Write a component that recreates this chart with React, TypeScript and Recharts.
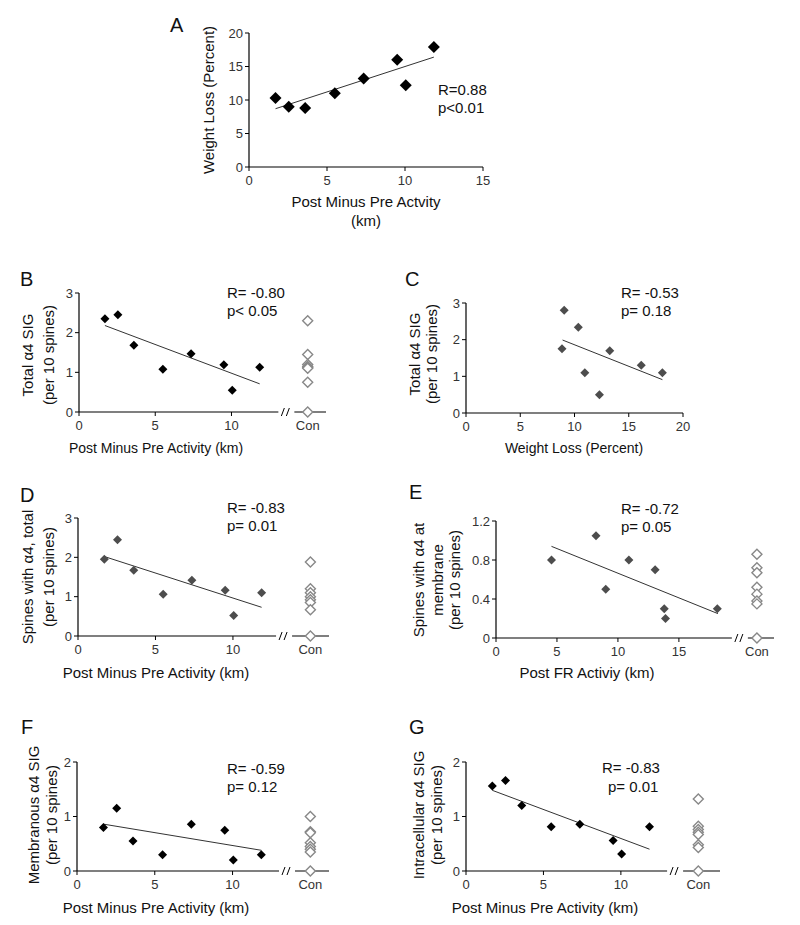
import React from "react";
import {
  ScatterChart,
  Scatter,
  XAxis,
  YAxis,
  ReferenceLine,
  ReferenceDot,
} from "recharts";

const FONT = '"Liberation Sans", Arial, sans-serif';

// x values shared by B, D, F, G (post minus pre activity, km)
const activityKm = [1.7, 2.55, 3.6, 5.5, 7.35, 9.5, 10.05, 11.85];

// A: weight loss vs activity
const weightLoss = [10.3, 9.0, 8.8, 11.0, 13.2, 16.0, 12.2, 17.9];
const trendA = [8.7, 16.4];

// B: total a4 SIG
const totalSig = [2.35, 2.45, 1.68, 1.08, 1.47, 1.19, 0.55, 1.13];
const trendB = [2.18, 0.71];
const conB = [2.3, 1.45, 1.2, 1.15, 1.12, 1.1, 0.75, 0];

// C: total a4 SIG vs weight loss
const weightX = [8.85, 9.05, 10.35, 10.95, 12.3, 13.25, 16.15, 18.1];
const totalSigC = [1.75, 2.8, 2.34, 1.1, 0.5, 1.7, 1.3, 1.1];
const trendCx = [8.9, 18.1];
const trendC = [1.99, 0.91];

// D: spines with a4, total
const spinesTotal = [1.95, 2.45, 1.67, 1.06, 1.42, 1.16, 0.52, 1.1];
const trendD = [2.02, 0.73];
const conD = [1.88, 1.2, 1.1, 1.0, 0.92, 0.85, 0.67, 0];

// E: spines with a4 at membrane vs post FR activity
const postFR = [4.55, 8.2, 9.0, 10.9, 13.05, 13.8, 13.9, 18.15];
const spinesMembrane = [0.8, 1.05, 0.5, 0.8, 0.7, 0.3, 0.2, 0.3];
const trendEx = [4.55, 18.2];
const trendE = [0.94, 0.25];
const conE = [0.86, 0.72, 0.67, 0.52, 0.45, 0.38, 0.35, 0];

// F: membranous a4 SIG
const membranousSig = [0.8, 1.15, 0.55, 0.3, 0.86, 0.75, 0.2, 0.3];
const trendF = [0.86, 0.38];
const conF = [1.0, 0.72, 0.7, 0.52, 0.45, 0.4, 0.35, 0];

// G: intracellular a4 SIG
const intraSig = [1.56, 1.66, 1.2, 0.81, 0.86, 0.56, 0.31, 0.81];
const trendG = [1.48, 0.4];
const conG = [1.32, 0.82, 0.76, 0.71, 0.67, 0.48, 0.43, 0];

const CON_X = 15;
const CON_X_E = 21.4;

const pts = (xs: number[], ys: number[]) =>
  xs.map((x, i) => ({ x, y: ys[i] }));
const conPts = (x: number, ys: number[]) => ys.map((y) => ({ x, y }));

const Diamond = (props: any) => {
  const { cx, cy, r, fill, stroke } = props;
  if (cx == null || cy == null) return <g />;
  return (
    <polygon
      points={`${cx},${cy - r} ${cx + r},${cy} ${cx},${cy + r} ${cx - r},${cy}`}
      fill={fill}
      stroke={stroke || "none"}
      strokeWidth={1.4}
    />
  );
};

const BreakMark = (props: any) => {
  const { cx, cy } = props;
  return (
    <g>
      <rect x={cx - 8} y={cy - 3} width={16} height={6} fill="#fff" />
      <line x1={cx - 5} y1={cy + 4} x2={cx - 2} y2={cy - 4} stroke="#000" />
      <line x1={cx} y1={cy + 4} x2={cx + 3} y2={cy - 4} stroke="#000" />
    </g>
  );
};

interface PanelCfg {
  box: { left: number; top: number; right: number; bottom: number };
  xDomain: [number, number];
  xTicks: number[];
  yDomain: [number, number];
  yTicks: number[];
  data: { x: number; y: number }[];
  fill: string;
  size: number;
  trend: { x: number; y: number }[];
  con?: { x: number; y: number }[];
  conX?: number;
  breakX?: number;
}

function Panel({ cfg }: { cfg: PanelCfg }) {
  const yW = 40;
  const xH = 30;
  const mt = 10;
  const mr = 12;
  const chartLeft = cfg.box.left - yW;
  const chartTop = cfg.box.top - mt;
  const width = cfg.box.right - chartLeft + mr;
  const height = cfg.box.bottom - chartTop + xH;
  const tickStyle = { fill: "#333", fontSize: 13, fontFamily: FONT };

  return (
    <div style={{ position: "absolute", left: chartLeft, top: chartTop }}>
      <ScatterChart
        width={width}
        height={height}
        margin={{ top: mt, right: mr, bottom: 0, left: 0 }}
      >
        <XAxis
          type="number"
          dataKey="x"
          domain={cfg.xDomain}
          ticks={cfg.xTicks}
          height={xH}
          tick={tickStyle}
          tickSize={4}
          tickMargin={5}
          tickLine={{ stroke: "#000" }}
          axisLine={{ stroke: "#000", strokeWidth: 1.2 }}
          tickFormatter={(v: number) =>
            cfg.conX != null && v === cfg.conX ? "Con" : String(v)
          }
        />
        <YAxis
          type="number"
          dataKey="y"
          domain={cfg.yDomain}
          ticks={cfg.yTicks}
          width={yW}
          tick={tickStyle}
          tickSize={4}
          tickMargin={2}
          tickLine={{ stroke: "#000" }}
          axisLine={{ stroke: "#000", strokeWidth: 1.2 }}
        />
        <ReferenceLine
          segment={cfg.trend}
          stroke="#333"
          strokeWidth={1}
          ifOverflow="visible"
        />
        {cfg.breakX != null && (
          <ReferenceDot
            x={cfg.breakX}
            y={0}
            r={1}
            ifOverflow="visible"
            shape={(p: any) => <BreakMark {...p} />}
          />
        )}
        <Scatter
          data={cfg.data}
          isAnimationActive={false}
          shape={(p: any) => <Diamond {...p} r={cfg.size} fill={cfg.fill} />}
        />
        {cfg.con && (
          <Scatter
            data={cfg.con}
            isAnimationActive={false}
            shape={(p: any) => (
              <Diamond {...p} r={5} fill="#fff" stroke="#888" />
            )}
          />
        )}
      </ScatterChart>
    </div>
  );
}

const panels: PanelCfg[] = [
  {
    box: { left: 249, top: 33, right: 483, bottom: 167 },
    xDomain: [0, 15],
    xTicks: [0, 5, 10, 15],
    yDomain: [0, 20],
    yTicks: [0, 5, 10, 15, 20],
    data: pts(activityKm, weightLoss),
    fill: "#000",
    size: 6,
    trend: pts([activityKm[0], activityKm[7]], trendA),
  },
  {
    box: { left: 79, top: 293, right: 326, bottom: 412 },
    xDomain: [0, 16.2],
    xTicks: [0, 5, 10, CON_X],
    yDomain: [0, 3],
    yTicks: [0, 1, 2, 3],
    data: pts(activityKm, totalSig),
    fill: "#000",
    size: 4.5,
    trend: pts([activityKm[0], activityKm[7]], trendB),
    con: conPts(CON_X, conB),
    conX: CON_X,
    breakX: 13.6,
  },
  {
    box: { left: 466, top: 303, right: 683, bottom: 413 },
    xDomain: [0, 20],
    xTicks: [0, 5, 10, 15, 20],
    yDomain: [0, 3],
    yTicks: [0, 1, 2, 3],
    data: pts(weightX, totalSigC),
    fill: "#4d4d4d",
    size: 4.5,
    trend: pts(trendCx, trendC),
  },
  {
    box: { left: 78, top: 518, right: 329, bottom: 636 },
    xDomain: [0, 16.2],
    xTicks: [0, 5, 10, CON_X],
    yDomain: [0, 3],
    yTicks: [0, 1, 2, 3],
    data: pts(activityKm, spinesTotal),
    fill: "#4d4d4d",
    size: 4.5,
    trend: pts([activityKm[0], activityKm[7]], trendD),
    con: conPts(CON_X, conD),
    conX: CON_X,
    breakX: 13.3,
  },
  {
    box: { left: 496, top: 521, right: 774, bottom: 638 },
    xDomain: [0, 22.8],
    xTicks: [0, 5, 10, 15, CON_X_E],
    yDomain: [0, 1.2],
    yTicks: [0, 0.4, 0.8, 1.2],
    data: pts(postFR, spinesMembrane),
    fill: "#4d4d4d",
    size: 4.5,
    trend: pts(trendEx, trendE),
    con: conPts(CON_X_E, conE),
    conX: CON_X_E,
    breakX: 20,
  },
  {
    box: { left: 77, top: 762, right: 329, bottom: 871 },
    xDomain: [0, 16.2],
    xTicks: [0, 5, 10, CON_X],
    yDomain: [0, 2],
    yTicks: [0, 1, 2],
    data: pts(activityKm, membranousSig),
    fill: "#000",
    size: 4.5,
    trend: pts([activityKm[0], activityKm[7]], trendF),
    con: conPts(CON_X, conF),
    conX: CON_X,
    breakX: 13.5,
  },
  {
    box: { left: 466, top: 762, right: 720, bottom: 871 },
    xDomain: [0, 16.4],
    xTicks: [0, 5, 10, CON_X],
    yDomain: [0, 2],
    yTicks: [0, 1, 2],
    data: pts(activityKm, intraSig),
    fill: "#000",
    size: 4.5,
    trend: pts([activityKm[0], activityKm[7]], trendG),
    con: conPts(CON_X, conG),
    conX: CON_X,
    breakX: 13.5,
  },
];

const T = (p: {
  x: number;
  y: number;
  size?: number;
  anchor?: "start" | "middle" | "end";
  rot?: boolean;
  children: React.ReactNode;
}) => (
  <text
    transform={`translate(${p.x},${p.y})${p.rot ? " rotate(-90)" : ""}`}
    textAnchor={p.anchor || "start"}
    dominantBaseline="central"
    fontSize={p.size || 15}
    fontFamily={FONT}
    fill="#111"
  >
    {p.children}
  </text>
);

function Labels() {
  return (
    <svg
      width={800}
      height={925}
      style={{ position: "absolute", left: 0, top: 0, pointerEvents: "none" }}
    >
      {/* A */}
      <T x={170} y={25} size={20}>A</T>
      <T x={208} y={100} anchor="middle" rot>Weight Loss (Percent)</T>
      <T x={366} y={201} anchor="middle">Post Minus Pre Actvity</T>
      <T x={366} y={220} anchor="middle">(km)</T>
      <T x={438} y={89}>R=0.88</T>
      <T x={438} y={107}>p&lt;0.01</T>

      {/* B */}
      <T x={20} y={279} size={20}>B</T>
      <T x={27} y={355} anchor="middle" rot>Total α4 SIG</T>
      <T x={48} y={355} anchor="middle" rot>(per 10 spines)</T>
      <T x={156} y={448} size={14} anchor="middle">Post Minus Pre Activity (km)</T>
      <T x={227} y={292}>R= -0.80</T>
      <T x={227} y={310}>p&lt; 0.05</T>

      {/* C */}
      <T x={405} y={279} size={20}>C</T>
      <T x={414} y={354} anchor="middle" rot>Total α4 SIG</T>
      <T x={431} y={354} anchor="middle" rot>(per 10 spines)</T>
      <T x={574} y={448} size={14} anchor="middle">Weight Loss (Percent)</T>
      <T x={621} y={292}>R= -0.53</T>
      <T x={621} y={310}>p= 0.18</T>

      {/* D */}
      <T x={20} y={495} size={20}>D</T>
      <T x={27} y={577} anchor="middle" rot>Spines with α4, total</T>
      <T x={48} y={577} anchor="middle" rot>(per 10 spines)</T>
      <T x={156} y={672} anchor="middle">Post Minus Pre Activity (km)</T>
      <T x={227} y={507}>R= -0.83</T>
      <T x={227} y={525}>p= 0.01</T>

      {/* E */}
      <T x={409} y={492} size={20}>E</T>
      <T x={418} y={580} anchor="middle" rot>Spines with α4 at</T>
      <T x={437} y={580} anchor="middle" rot>membrane</T>
      <T x={454} y={580} anchor="middle" rot>(per 10 spines)</T>
      <T x={587} y={672} anchor="middle">Post FR Activiy (km)</T>
      <T x={621} y={508}>R= -0.72</T>
      <T x={621} y={526}>p= 0.05</T>

      {/* F */}
      <T x={21} y={727} size={20}>F</T>
      <T x={33} y={815} anchor="middle" rot>Membranous α4 SIG</T>
      <T x={51} y={815} anchor="middle" rot>(per 10 spines)</T>
      <T x={156} y={907} anchor="middle">Post Minus Pre Activity (km)</T>
      <T x={227} y={768}>R= -0.59</T>
      <T x={227} y={786}>p= 0.12</T>

      {/* G */}
      <T x={409} y={727} size={20}>G</T>
      <T x={418} y={815} anchor="middle" rot>Intracellular α4 SIG</T>
      <T x={436} y={815} anchor="middle" rot>(per 10 spines)</T>
      <T x={545} y={907} anchor="middle">Post Minus Pre Activity (km)</T>
      <T x={602} y={767}>R= -0.83</T>
      <T x={608} y={786}>p= 0.01</T>
    </svg>
  );
}

export default function App() {
  return (
    <div
      style={{
        position: "absolute",
        left: 0,
        top: 0,
        width: 800,
        height: 925,
        background: "#fff",
        overflow: "hidden",
      }}
    >
      {panels.map((cfg, i) => (
        <Panel key={i} cfg={cfg} />
      ))}
      <Labels />
    </div>
  );
}
